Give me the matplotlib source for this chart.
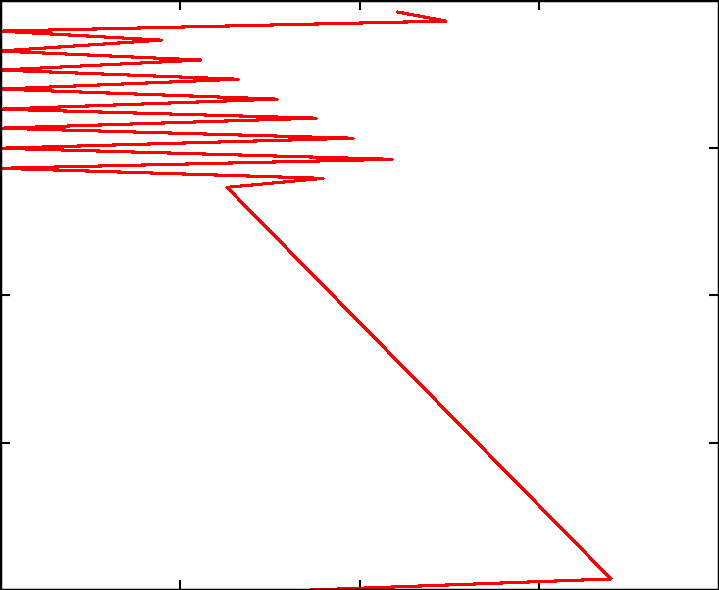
import matplotlib
matplotlib.use("Agg")
import matplotlib.pyplot as plt

# path vertices (data units, axes span 0..4 in both directions)
x_vals = [2.214, 2.481, 0.0, 0.896, 0.0, 1.113, 0.0, 1.324, 0.0, 1.541, 0.0,
          1.758, 0.0, 1.964, 0.0, 2.181, 0.0, 1.797, 1.263, 3.399, 1.736]
y_vals = [3.918, 3.857, 3.789, 3.728, 3.654, 3.593, 3.525, 3.463, 3.396, 3.328, 3.260,
          3.199, 3.131, 3.063, 2.995, 2.920, 2.859, 2.791, 2.730, 0.075, 0.0]
x_ticks = [1, 2, 3]
y_ticks = [1, 2, 3]

fig = plt.figure(figsize=(7.19, 5.90), dpi=100)
ax = fig.add_axes([0, 0, 1, 1])
ax.plot(x_vals, y_vals, color="#ff0000", lw=1.5, antialiased=False, clip_on=True)
ax.set_xlim(0, 4)
ax.set_ylim(0, 4)
ax.set_xticks(x_ticks)
ax.set_yticks(y_ticks)
ax.set_xticklabels([])
ax.set_yticklabels([])
ax.tick_params(direction="in", length=7, width=1.5, color="black",
               top=True, right=True, bottom=True, left=True)
for s in ax.spines.values():
    s.set_linewidth(2.5)
    s.set_color("black")
fig.savefig("out.png", dpi=100, facecolor="white")
